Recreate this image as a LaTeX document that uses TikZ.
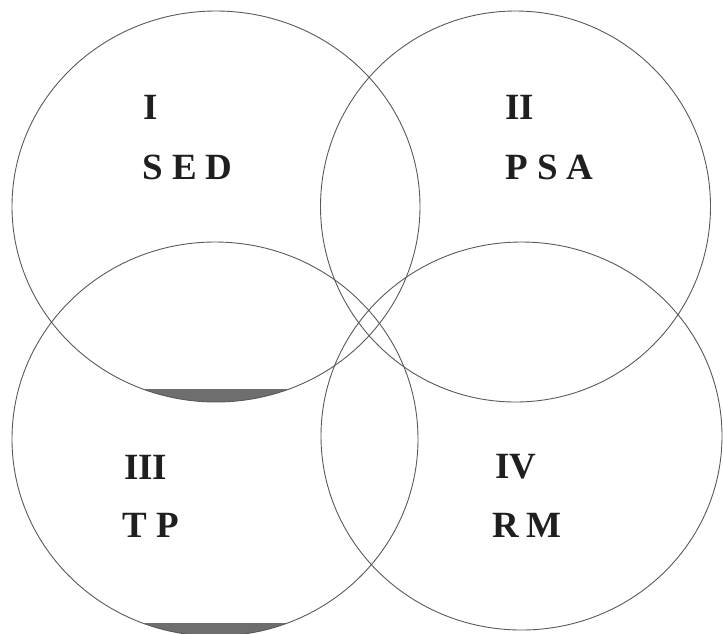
\documentclass[tikz,border=0pt]{standalone}
\usepackage{fontspec}
\setmainfont{Liberation Serif}
\begin{document}
\begin{tikzpicture}[x=1pt,y=-1pt,
  ring/.style={draw=black!65,line width=0.9pt},
  shade/.style={fill=black!57},
  lbl/.style={anchor=base west,inner sep=0pt,font=\fontsize{37}{40}\selectfont\bfseries,text=black!88}]
\useasboundingbox (0,0) rectangle (723,633);
% shaded segments
\begin{scope}
  \clip (216,206.5) ellipse [x radius=204,y radius=195.5];
  \fill[shade] (120,389) rectangle (300,420);
\end{scope}
\begin{scope}
  \clip (215,439) ellipse [x radius=203,y radius=197];
  \fill[shade] (120,623) rectangle (300,660);
\end{scope}
% circles
\draw[ring] (216,206.5) ellipse [x radius=204,y radius=195.5];
\draw[ring] (515.5,206.5) ellipse [x radius=195,y radius=195.5];
\draw[ring] (215,439) ellipse [x radius=203,y radius=197];
\draw[ring] (521.5,436) ellipse [x radius=200.5,y radius=194];
% labels
\node[lbl] (n1) at (143,119) {I};
\node[lbl] (t1) at (142,179) {S E D};
\node[lbl] (n2) at (505,119) {II};
\node[lbl] (t2) at (505,179) {P S A};
\node[lbl] (n3) at (124,479) {III};
\node[lbl] (t3) at (122,537) {T P};
\node[lbl] (n4) at (495,478) {IV};
\node[lbl] (t4) at (492,537) {R\hspace{0.2em}M};
\end{tikzpicture}
\end{document}
